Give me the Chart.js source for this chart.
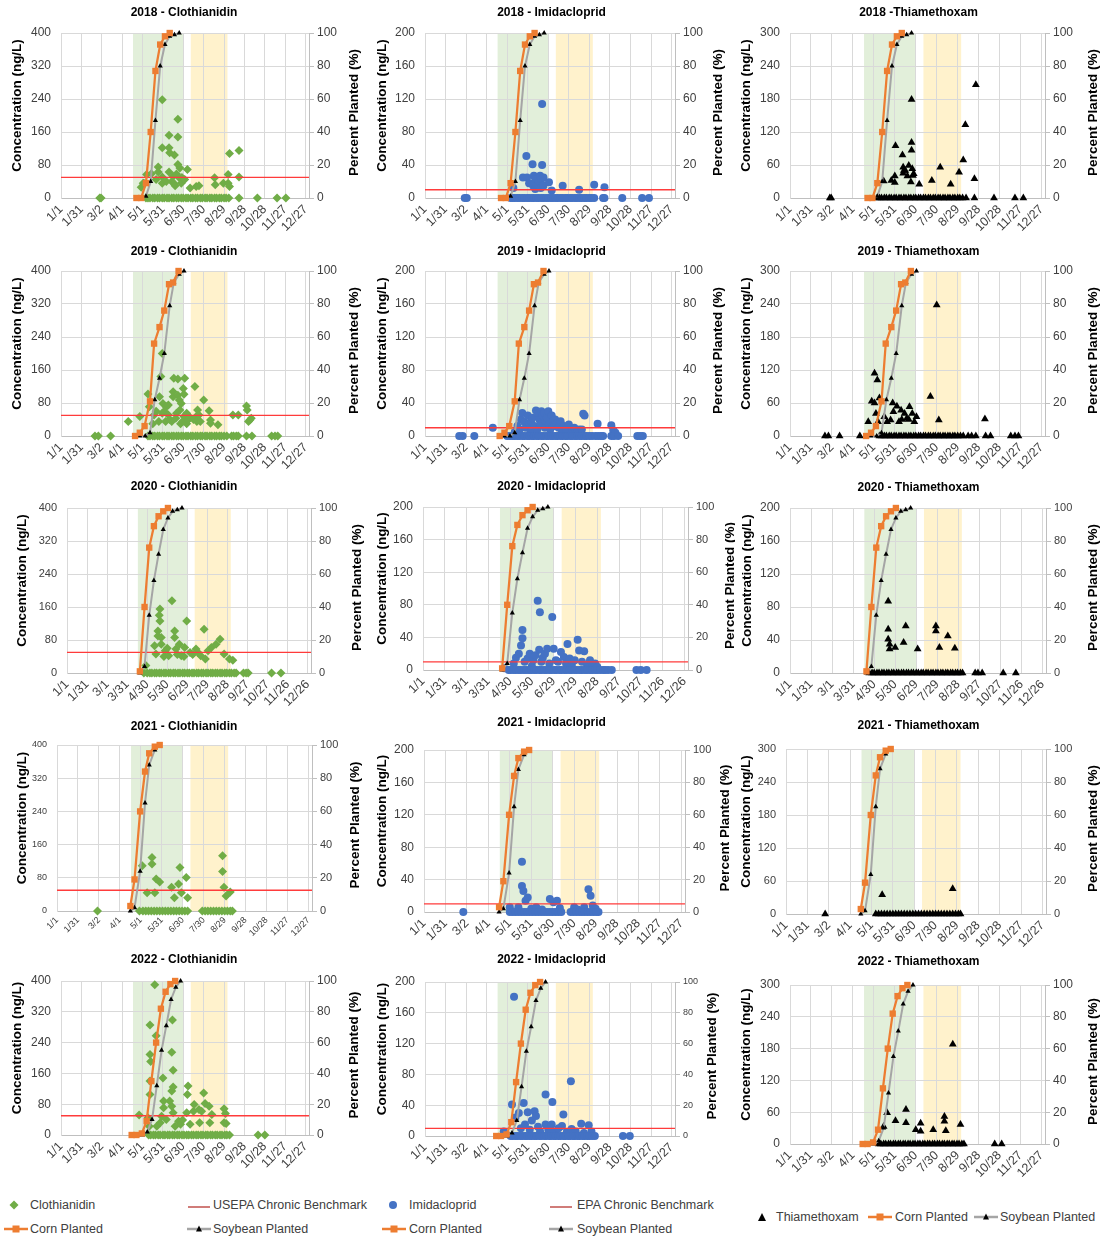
<!doctype html>
<html lang="en">
<head>
<meta charset="utf-8" />
<title>Neonicotinoid concentrations and planting progress</title>
<script src="https://cdn.jsdelivr.net/npm/chart.js@4.4.3/dist/chart.umd.min.js"></script>
<style>
  body {
    margin: 0;
    width: 1102px;
    height: 1239px;
    position: relative;
    overflow: hidden;
    background: #fff;
    font-family: "Liberation Sans", Arial, sans-serif;
  }
  .panel { position: absolute; }
  .lg {
    position: absolute;
    font-size: 12.5px;
    color: #404040;
    white-space: nowrap;
    line-height: 14px;
    transform: translateY(-50%);
  }
  .lg-icon { position: absolute; transform: translate(-50%, -50%); }
</style>
</head>
<body>
<script>
// x axis: day of year, ticks every 30 days
const tickDays = [0, 30, 60, 90, 120, 150, 180, 210, 240, 270, 300, 330, 360];
const tickLabels = ["1/1", "1/31", "3/2", "4/1", "5/1", "5/31", "6/30", "7/30", "8/29", "9/28", "10/28", "11/27", "12/27"];
const tickLabelsLeap = ["1/1", "1/31", "3/1", "3/31", "4/30", "5/30", "6/29", "7/29", "8/28", "9/27", "10/27", "11/26", "12/26"];
const xMax = 365;

// shaded windows (day of year)
const greenBand = [106, 180];
const yellowBand = [191, 245];

// chronic benchmarks (ng/L)
const cloBenchmark = 50;
const imiBenchmark = 10;

// planting progress, [day, percent]
const corn2018 = [[111, 0], [118, 0], [125, 9], [132, 40], [139, 77], [146, 93], [153, 98], [160, 100]];
const soy2018 = [[111, 0], [118, 0], [125, 1], [132, 10], [139, 47], [146, 80], [153, 93], [160, 98], [167, 99], [174, 100]];
const corn2019 = [[109, 0], [116, 2], [123, 6], [131, 21], [137, 56], [145, 66], [152, 76], [159, 92], [165, 93], [173, 100]];
const soy2019 = [[109, 0], [116, 0], [124, 0], [131, 2], [138, 22], [145, 35], [152, 50], [160, 79], [166, 93], [174, 98], [181, 100]];
const corn2020 = [[109, 1], [116, 40], [123, 76], [130, 89], [137, 95], [144, 98], [151, 100]];
const soy2020 = [[109, 0], [116, 4], [123, 35], [130, 56], [137, 72], [144, 87], [151, 94], [158, 98], [165, 99], [172, 100]];
const corn2021 = [[105, 3], [111, 19], [119, 60], [126, 84], [132, 95], [140, 99], [147, 100]];
const soy2021 = [[105, 0], [111, 2], [119, 24], [126, 65], [132, 88], [140, 97], [147, 100]];
const corn2022 = [[104, 0], [111, 0], [119, 1], [126, 9], [133, 35], [140, 60], [147, 82], [154, 93], [161, 98], [168, 100]];
const soy2022 = [[106, 0], [113, 0], [120, 0], [127, 2], [134, 10], [141, 32], [148, 55], [155, 71], [162, 88], [169, 96], [176, 100]];

// detections [day, ng/L] and non-detect days (plotted at 0)
const clo2018 = [[118, 26], [121, 36], [122, 36], [126, 57], [133, 59], [140, 45], [143, 75], [143, 63], [149, 238], [149, 122], [149, 51], [149, 36], [155, 40], [159, 152], [159, 122], [159, 63], [160, 110], [163, 40], [165, 53], [166, 36], [167, 104], [168, 30], [170, 58], [172, 191], [172, 148], [172, 81], [174, 49], [175, 73], [177, 36], [178, 50], [182, 45], [186, 69], [190, 24], [199, 28], [203, 30], [226, 49], [227, 32], [239, 36], [246, 57], [246, 36], [248, 28], [248, 108], [262, 115], [262, 51]];
const clo2018Zero = [57, 59, 125, 128, 131, 135, 138, 142, 145, 149, 152, 156, 159, 163, 166, 170, 173, 177, 180, 184, 187, 191, 194, 198, 201, 205, 208, 212, 215, 219, 222, 226, 229, 233, 236, 240, 243, 247, 262, 289, 318, 331];
const imi2018 = [[129, 12], [143, 25], [148, 51], [149, 25], [152, 18], [157, 41], [158, 15], [159, 27], [160, 18], [161, 23], [161, 11], [165, 15], [166, 20], [168, 27], [169, 12], [170, 23], [171, 114], [171, 40], [173, 25], [173, 15], [181, 19], [185, 9], [201, 15], [225, 10], [247, 16], [262, 13]];
const imi2018Zero = [58, 61, 125, 128, 131, 135, 138, 142, 145, 149, 152, 156, 159, 163, 166, 170, 173, 177, 180, 184, 187, 191, 194, 198, 201, 205, 208, 212, 215, 219, 222, 226, 229, 233, 236, 240, 243, 247, 260, 262, 288, 317, 327];
const thi2018 = [[134, 31], [145, 32], [150, 40], [150, 28], [151, 95], [161, 78], [162, 56], [162, 45], [163, 50], [165, 50], [168, 40], [170, 59], [173, 29], [174, 179], [174, 101], [174, 87], [175, 53], [176, 41], [177, 44], [185, 25], [203, 32], [215, 56], [230, 25], [242, 47], [248, 69], [251, 133], [264, 35], [266, 206]];
const thi2018Zero = [57, 59, 125, 128, 131, 135, 138, 142, 145, 149, 152, 156, 159, 163, 166, 170, 173, 177, 180, 184, 187, 191, 194, 198, 201, 205, 208, 212, 215, 219, 222, 226, 229, 233, 236, 240, 243, 247, 252, 264, 292, 322, 334];

const clo2019 = [[99, 35], [116, 47], [128, 102], [130, 71], [135, 30], [137, 51], [140, 60], [144, 35], [145, 95], [147, 144], [149, 200], [149, 55], [150, 79], [152, 60], [154, 35], [155, 71], [158, 75], [158, 51], [160, 40], [163, 35], [165, 107], [165, 95], [166, 140], [169, 43], [170, 55], [172, 138], [172, 99], [174, 87], [175, 63], [176, 30], [177, 79], [179, 35], [180, 115], [181, 101], [181, 47], [182, 140], [185, 55], [185, 30], [187, 39], [190, 45], [195, 40], [197, 120], [199, 47], [200, 35], [201, 63], [203, 51], [205, 35], [210, 87], [218, 61], [220, 39], [220, 31], [231, 27], [253, 51], [261, 51], [273, 73], [274, 63], [276, 35], [278, 39], [280, 43]];
const clo2019Zero = [50, 55, 73, 128, 131, 135, 138, 142, 145, 149, 152, 156, 159, 163, 166, 170, 173, 177, 180, 184, 187, 191, 194, 198, 201, 205, 208, 212, 215, 219, 222, 226, 229, 233, 236, 240, 244, 251, 254, 258, 261, 273, 281, 310, 315, 319];
const imi2019 = [[99, 10], [131, 5], [135, 12], [138, 8], [140, 20], [142, 28], [145, 17], [147, 10], [150, 25], [152, 15], [154, 5], [155, 18], [157, 22], [160, 12], [162, 31], [164, 8], [165, 27], [167, 20], [169, 14], [170, 30], [172, 25], [174, 28], [175, 10], [176, 18], [178, 22], [180, 30], [181, 14], [183, 8], [185, 25], [187, 18], [189, 12], [190, 20], [192, 15], [195, 10], [198, 18], [200, 6], [203, 12], [206, 8], [210, 14], [215, 6], [218, 10], [222, 5], [225, 8], [229, 8], [231, 27], [233, 25], [252, 15], [272, 13], [275, 7], [278, 4]];
const imi2019Zero = [50, 55, 72, 120, 124, 128, 131, 135, 138, 142, 145, 149, 152, 156, 159, 163, 166, 170, 173, 177, 180, 184, 187, 191, 194, 198, 201, 205, 208, 212, 215, 219, 222, 226, 229, 233, 236, 240, 244, 249, 253, 257, 260, 272, 276, 282, 310, 314, 318];
const thi2019 = [[112, 26], [117, 63], [121, 114], [121, 60], [123, 41], [125, 102], [126, 26], [128, 69], [135, 35], [139, 26], [144, 29], [147, 60], [148, 44], [153, 54], [156, 26], [159, 47], [160, 30], [164, 41], [167, 32], [170, 30], [171, 53], [175, 41], [178, 26], [181, 35], [201, 72], [210, 238], [213, 29], [279, 31]];
const thi2019Zero = [50, 55, 71, 100, 128, 131, 135, 138, 142, 145, 149, 152, 156, 159, 163, 166, 170, 173, 177, 180, 184, 187, 191, 194, 198, 201, 205, 208, 212, 215, 219, 222, 226, 229, 233, 236, 240, 244, 248, 255, 260, 266, 280, 287, 316, 322, 327];

const clo2020 = [[118, 18], [131, 66], [133, 46], [136, 102], [136, 90], [138, 140], [139, 155], [139, 126], [141, 86], [141, 70], [145, 40], [147, 54], [150, 60], [152, 42], [157, 175], [161, 102], [161, 86], [163, 58], [165, 45], [168, 70], [171, 42], [175, 40], [176, 62], [179, 126], [184, 50], [188, 45], [193, 58], [196, 50], [200, 42], [205, 106], [207, 34], [211, 54], [216, 62], [223, 70], [229, 82], [235, 46], [243, 34], [248, 31]];
const clo2020Zero = [115, 120, 124, 127, 131, 134, 138, 141, 145, 148, 152, 155, 159, 162, 166, 169, 173, 176, 180, 183, 187, 190, 194, 197, 201, 204, 208, 211, 215, 218, 222, 225, 229, 232, 236, 239, 243, 246, 250, 253, 264, 268, 271, 306, 320];
const imi2020 = [[112, 2], [125, 8], [128, 15], [132, 20], [135, 30], [137, 49], [137, 39], [140, 10], [144, 14], [147, 20], [150, 5], [152, 12], [155, 18], [158, 85], [160, 25], [161, 71], [163, 10], [165, 15], [168, 20], [171, 26], [174, 8], [178, 65], [180, 26], [183, 12], [186, 10], [190, 22], [194, 16], [197, 8], [199, 32], [202, 14], [205, 6], [209, 12], [213, 37], [215, 24], [219, 10], [222, 23], [226, 6], [230, 12], [234, 5], [237, 8], [240, 4]];
const imi2020Zero = [118, 121, 125, 128, 132, 135, 139, 142, 146, 149, 153, 156, 160, 163, 167, 170, 174, 177, 181, 184, 188, 191, 195, 198, 202, 205, 209, 212, 216, 219, 223, 226, 230, 233, 237, 240, 244, 248, 251, 255, 260, 294, 300, 308];
const thi2020 = [[140, 87], [140, 53], [140, 41], [142, 29], [142, 35], [150, 31], [162, 37], [165, 57], [182, 29], [208, 57], [208, 51], [213, 31], [225, 45], [235, 30]];
const thi2020Zero = [113, 117, 120, 124, 127, 131, 134, 138, 141, 145, 148, 152, 155, 159, 162, 166, 169, 173, 176, 180, 183, 187, 190, 194, 197, 201, 204, 208, 211, 215, 218, 222, 225, 229, 232, 236, 239, 243, 246, 264, 268, 274, 304, 322];

const clo2021 = [[122, 109], [129, 44], [136, 129], [136, 113], [140, 44], [142, 77], [147, 70], [164, 57], [168, 32], [174, 65], [176, 105], [178, 44], [185, 81], [187, 32], [237, 133], [237, 95], [239, 57], [242, 36], [248, 46]];
const clo2021Zero = [58, 118, 123, 127, 131, 135, 139, 143, 147, 151, 155, 159, 163, 167, 171, 175, 179, 183, 187, 208, 212, 216, 220, 224, 228, 232, 236, 240, 244, 248, 251];
const imi2021 = [[120, 6], [132, 6], [137, 62], [137, 32], [139, 26], [142, 14], [145, 18], [150, 4], [157, 6], [165, 3], [176, 16], [181, 12], [186, 14], [190, 5], [210, 6], [215, 3], [224, 6], [230, 28], [233, 20], [236, 8], [240, 4]];
const imi2021Zero = [55, 120, 124, 128, 132, 136, 140, 144, 148, 152, 156, 160, 164, 168, 172, 176, 180, 184, 188, 192, 205, 209, 213, 217, 221, 225, 229, 233, 237, 241, 244];
const thi2021 = [[135, 35], [234, 46]];
const thi2021Zero = [55, 126, 130, 134, 138, 142, 146, 150, 154, 158, 162, 166, 170, 174, 178, 182, 186, 190, 194, 198, 202, 206, 210, 214, 218, 222, 226, 230, 234, 238, 242, 245];

const clo2022 = [[115, 52], [128, 45], [130, 23], [131, 286], [131, 209], [132, 191], [131, 140], [131, 105], [138, 390], [140, 258], [141, 23], [146, 32], [148, 49], [150, 148], [151, 71], [151, 88], [155, 40], [160, 88], [163, 215], [163, 114], [163, 75], [164, 299], [165, 168], [165, 125], [165, 58], [168, 23], [173, 36], [176, 28], [179, 39], [185, 58], [186, 105], [187, 127], [190, 28], [195, 62], [196, 79], [203, 66], [204, 32], [207, 62], [210, 109], [212, 82], [218, 75], [219, 32], [222, 53], [240, 68], [240, 32], [242, 56], [243, 30]];
const clo2022Zero = [129, 132, 136, 139, 143, 146, 150, 153, 157, 160, 164, 167, 171, 174, 178, 181, 185, 188, 192, 195, 199, 202, 206, 209, 213, 216, 220, 223, 227, 230, 234, 237, 241, 244, 248, 290, 300];
const imi2022 = [[115, 6], [127, 41], [130, 181], [132, 24], [137, 30], [140, 10], [144, 43], [146, 15], [150, 31], [153, 8], [156, 20], [160, 32], [162, 26], [165, 12], [168, 6], [176, 54], [176, 15], [180, 8], [185, 15], [186, 44], [190, 6], [195, 10], [200, 13], [202, 28], [207, 5], [213, 71], [214, 9], [220, 6], [228, 16], [232, 4], [239, 14], [243, 6]];
const imi2022Zero = [125, 128, 132, 135, 139, 142, 146, 149, 153, 156, 160, 163, 167, 170, 174, 177, 181, 184, 188, 191, 195, 198, 202, 205, 209, 212, 216, 219, 223, 226, 230, 233, 237, 240, 244, 248, 289, 299];
const thi2022 = [[134, 33], [139, 59], [151, 44], [166, 65], [166, 40], [180, 27], [187, 39], [187, 24], [205, 27], [221, 52], [221, 43], [223, 25], [233, 188], [244, 37]];
const thi2022Zero = [127, 130, 134, 137, 141, 144, 148, 151, 155, 158, 162, 165, 169, 172, 176, 179, 183, 186, 190, 193, 197, 200, 204, 207, 211, 214, 218, 221, 225, 228, 232, 235, 239, 242, 246, 249, 293, 303];

const kinds = {
  clo: { label: "Clothianidin", color: "#70AD47", style: "rectRot", radius: 4.5, bench: cloBenchmark },
  imi: { label: "Imidacloprid", color: "#4472C4", style: "circle", radius: 4, bench: imiBenchmark },
  thi: { label: "Thiamethoxam", color: "#000000", style: "triangle", radius: 4.5, bench: null },
};

const panels = [
  { title: "2018 - Clothianidin", kind: "clo", yMax: 400, det: clo2018, zero: clo2018Zero, corn: corn2018, soy: soy2018, labels: tickLabels },
  { title: "2018 - Imidacloprid", kind: "imi", yMax: 200, det: imi2018, zero: imi2018Zero, corn: corn2018, soy: soy2018, labels: tickLabels },
  { title: "2018 -Thiamethoxam", kind: "thi", yMax: 300, det: thi2018, zero: thi2018Zero, corn: corn2018, soy: soy2018, labels: tickLabels },
  { title: "2019 - Clothianidin", kind: "clo", yMax: 400, det: clo2019, zero: clo2019Zero, corn: corn2019, soy: soy2019, labels: tickLabels },
  { title: "2019 - Imidacloprid", kind: "imi", yMax: 200, det: imi2019, zero: imi2019Zero, corn: corn2019, soy: soy2019, labels: tickLabels },
  { title: "2019 - Thiamethoxam", kind: "thi", yMax: 300, det: thi2019, zero: thi2019Zero, corn: corn2019, soy: soy2019, labels: tickLabels },
  { title: "2020 - Clothianidin", kind: "clo", yMax: 400, det: clo2020, zero: clo2020Zero, corn: corn2020, soy: soy2020, labels: tickLabelsLeap },
  { title: "2020 - Imidacloprid", kind: "imi", yMax: 200, det: imi2020, zero: imi2020Zero, corn: corn2020, soy: soy2020, labels: tickLabelsLeap },
  { title: "2020 - Thiamethoxam", kind: "thi", yMax: 200, det: thi2020, zero: thi2020Zero, corn: corn2020, soy: soy2020, labels: tickLabelsLeap },
  { title: "2021 - Clothianidin", kind: "clo", yMax: 400, det: clo2021, zero: clo2021Zero, corn: corn2021, soy: soy2021, labels: tickLabels },
  { title: "2021 - Imidacloprid", kind: "imi", yMax: 200, det: imi2021, zero: imi2021Zero, corn: corn2021, soy: soy2021, labels: tickLabels },
  { title: "2021 - Thiamethoxam", kind: "thi", yMax: 300, det: thi2021, zero: thi2021Zero, corn: corn2021, soy: soy2021, labels: tickLabels },
  { title: "2022 - Clothianidin", kind: "clo", yMax: 400, det: clo2022, zero: clo2022Zero, corn: corn2022, soy: soy2022, labels: tickLabels },
  { title: "2022 - Imidacloprid", kind: "imi", yMax: 200, det: imi2022, zero: imi2022Zero, corn: corn2022, soy: soy2022, labels: tickLabels },
  { title: "2022 - Thiamethoxam", kind: "thi", yMax: 300, det: thi2022, zero: thi2022Zero, corn: corn2022, soy: soy2022, labels: tickLabels },
];

// page layout (absolute px)
const cols = [[0, 368], [368, 735], [735, 1102]];
const rows = [[0, 240], [240, 475], [475, 715], [715, 950], [950, 1190]];
const plotRects = [
  [61, 309, 33, 198], [425, 675, 33, 198], [790, 1045, 33, 198],
  [61, 309, 271, 436], [425, 675, 271, 436], [790, 1045, 271, 436],
  [67, 311, 508, 673], [423, 688, 507, 670], [790, 1046, 508, 673],
  [57, 312, 745, 911], [424, 685, 750, 912], [786, 1046, 749, 914],
  [61, 309, 981, 1135], [425, 675, 982, 1136], [790, 1045, 985, 1144],
];
const titleYs = [13, 13, 13, 252, 252, 252, 487, 487, 488, 727, 723, 726, 960, 960, 962];
const leftTitleXs = [17, 382, 746, 17, 382, 746, 22, 382, 747, 22, 382, 746, 17, 382, 746];
const rightTitleXs = [354, 718, 1093, 354, 718, 1093, 357, 730, 1093, 355, 725, 1093, 354, 712, 1093];
const tickFonts = [12, 12, 12, 12, 12, 12, 11, 12, 12, 9, 12, 11, 12, 12, 12];
const rightTickFonts = [12, 12, 12, 12, 12, 12, 11, 11, 11, 11, 11, 11, 12, 9, 12];

const xy = (arr) => arr.map(([x, y]) => ({ x, y }));

const panelDecor = {
  id: "panelDecor",
  beforeDraw(chart) {
    const { ctx, chartArea: a } = chart;
    const xs = chart.scales.x;
    ctx.save();
    for (const [band, color] of [[greenBand, "#E2EFDA"], [yellowBand, "#FFF2CC"]]) {
      const x0 = xs.getPixelForValue(band[0]);
      const x1 = xs.getPixelForValue(band[1]);
      ctx.fillStyle = color;
      ctx.fillRect(x0, a.top, x1 - x0, a.bottom - a.top);
    }
    ctx.restore();
  },
  afterDraw(chart, args, opts) {
    const { ctx, chartArea: a } = chart;
    const mid = (a.top + a.bottom) / 2;
    const titles = [[opts.leftX, mid - 10, "Concentration (ng/L)"], [opts.rightX, mid - 3, "Percent Planted (%)"]];
    for (const [x, y, text] of titles) {
      ctx.save();
      ctx.font = "bold 13.5px 'Liberation Sans', Arial, sans-serif";
      ctx.fillStyle = "#000";
      ctx.textAlign = "center";
      ctx.textBaseline = "middle";
      ctx.translate(x, y);
      ctx.rotate(-Math.PI / 2);
      ctx.fillText(text, 0, 0);
      ctx.restore();
    }
  },
};

function makePanel(p, i) {
  const col = cols[i % 3];
  const row = rows[Math.floor(i / 3)];
  const [pl, pr, pt, pb] = plotRects[i];
  const w = col[1] - col[0];
  const h = row[1] - row[0];
  const k = kinds[p.kind];

  const wrap = document.createElement("div");
  wrap.className = "panel";
  wrap.style.left = col[0] + "px";
  wrap.style.top = row[0] + "px";
  const canvas = document.createElement("canvas");
  canvas.width = w;
  canvas.height = h;
  wrap.appendChild(canvas);
  document.body.appendChild(wrap);

  const titleY = titleYs[i] - row[0];
  const titlePadTop = titleY - 7.2;
  const titlePadBottom = (pt - row[0]) - titleY - 7.2;

  const datasets = [
    {
      label: "Corn Planted",
      data: xy(p.corn),
      yAxisID: "y2",
      borderColor: "#ED7D31",
      backgroundColor: "#ED7D31",
      borderWidth: 2.25,
      pointStyle: "rect",
      pointRadius: 4.5,
      pointBorderWidth: 0,
      pointBackgroundColor: "#ED7D31",
      clip: false,
    },
    {
      label: "Soybean Planted",
      data: xy(p.soy),
      yAxisID: "y2",
      borderColor: "#A5A5A5",
      backgroundColor: "#000",
      borderWidth: 2,
      pointStyle: "triangle",
      pointRadius: 3,
      pointBorderWidth: 0,
      pointBackgroundColor: "#000",
      clip: false,
    },
  ];
  if (k.bench !== null) {
    datasets.push({
      label: "Benchmark",
      data: [{ x: 0, y: k.bench }, { x: xMax, y: k.bench }],
      yAxisID: "y",
      borderColor: "#FF3B3B",
      borderWidth: 1.3,
      pointRadius: 0,
    });
  }
  datasets.push({
    label: k.label,
    data: xy(p.det).concat(p.zero.map((d) => ({ x: d, y: 0 }))),
    yAxisID: "y",
    showLine: false,
    pointStyle: k.style,
    pointRadius: k.radius,
    pointBorderWidth: 0,
    pointBackgroundColor: k.color,
    backgroundColor: k.color,
    borderColor: k.color,
    clip: false,
  });

  const family = "'Liberation Sans', Arial, sans-serif";
  new Chart(canvas, {
    type: "line",
    data: { datasets },
    plugins: [panelDecor],
    options: {
      responsive: false,
      animation: false,
      events: [],
      layout: { padding: 0 },
      elements: { line: { tension: 0 } },
      plugins: {
        legend: { display: false },
        tooltip: { enabled: false },
        title: {
          display: true,
          text: p.title,
          color: "#000",
          font: { family, size: 12, weight: "bold" },
          padding: { top: titlePadTop, bottom: titlePadBottom },
        },
        panelDecor: { leftX: leftTitleXs[i] - col[0], rightX: rightTitleXs[i] - col[0] },
      },
      scales: {
        x: {
          type: "linear",
          min: 0,
          max: xMax,
          afterBuildTicks: (s) => { s.ticks = tickDays.map((v) => ({ value: v })); },
          afterFit: (s) => { s.height = row[1] - pb; },
          ticks: {
            autoSkip: false,
            minRotation: 45,
            maxRotation: 45,
            padding: 4,
            color: "#404040",
            font: { family, size: tickFonts[i] === 9 ? 9 : 12.5 },
            callback: (v, idx) => p.labels[idx],
          },
          grid: { color: "#D9D9D9", drawTicks: false },
          border: { color: "#BFBFBF" },
        },
        y: {
          position: "left",
          min: 0,
          max: p.yMax,
          afterFit: (s) => { s.width = pl - col[0]; },
          ticks: { stepSize: p.yMax / 5, padding: 10, color: "#404040", font: { family, size: tickFonts[i] } },
          grid: { color: "#D9D9D9", drawTicks: false },
          border: { color: "#D9D9D9" },
        },
        y2: {
          position: "right",
          min: 0,
          max: 100,
          afterFit: (s) => { s.width = col[1] - pr; },
          ticks: { stepSize: 20, padding: 3, color: "#404040", font: { family, size: rightTickFonts[i] } },
          grid: { drawOnChartArea: false, drawTicks: true, tickLength: 5, color: "#BFBFBF" },
          border: { color: "#BFBFBF" },
        },
      },
    },
  });
}

panels.forEach(makePanel);

// legend at the bottom
const legendIcons = {
  diamond: '<svg width="10" height="10"><path d="M5 0.5 L9.5 5 L5 9.5 L0.5 5 Z" fill="#70AD47"/></svg>',
  circle: '<svg width="10" height="10"><circle cx="5" cy="5" r="4" fill="#4472C4"/></svg>',
  tri: '<svg width="10" height="10"><path d="M5 1 L9 9 L1 9 Z" fill="#000"/></svg>',
  bench: '<svg width="24" height="6"><line x1="1" y1="3" x2="23" y2="3" stroke="#C0504D" stroke-width="1.5"/></svg>',
  corn: '<svg width="26" height="10"><line x1="1" y1="5" x2="25" y2="5" stroke="#ED7D31" stroke-width="2.5"/><rect x="9.5" y="1.5" width="7" height="7" fill="#ED7D31"/></svg>',
  soy: '<svg width="26" height="10"><line x1="1" y1="5" x2="25" y2="5" stroke="#A5A5A5" stroke-width="2.5"/><path d="M13 1.5 L16 7.5 L10 7.5 Z" fill="#000"/></svg>',
};
const legendItems = [
  { icon: "diamond", ix: 14, tx: 30, y: 1205, text: "Clothianidin" },
  { icon: "bench", ix: 199, tx: 213, y: 1205, text: "USEPA Chronic Benchmark" },
  { icon: "circle", ix: 393, tx: 409, y: 1205, text: "Imidacloprid" },
  { icon: "bench", ix: 561, tx: 577, y: 1205, text: "EPA Chronic Benchmark" },
  { icon: "corn", ix: 16, tx: 30, y: 1229, text: "Corn Planted" },
  { icon: "soy", ix: 199, tx: 213, y: 1229, text: "Soybean Planted" },
  { icon: "corn", ix: 394, tx: 409, y: 1229, text: "Corn Planted" },
  { icon: "soy", ix: 561, tx: 577, y: 1229, text: "Soybean Planted" },
  { icon: "tri", ix: 762, tx: 776, y: 1217, text: "Thiamethoxam" },
  { icon: "corn", ix: 880, tx: 895, y: 1217, text: "Corn Planted" },
  { icon: "soy", ix: 986, tx: 1000, y: 1217, text: "Soybean Planted" },
];
for (const item of legendItems) {
  const icon = document.createElement("div");
  icon.className = "lg-icon";
  icon.style.left = item.ix + "px";
  icon.style.top = item.y + "px";
  icon.innerHTML = legendIcons[item.icon];
  document.body.appendChild(icon);
  const label = document.createElement("div");
  label.className = "lg";
  label.style.left = item.tx + "px";
  label.style.top = item.y + "px";
  label.textContent = item.text;
  document.body.appendChild(label);
}
</script>
</body>
</html>
